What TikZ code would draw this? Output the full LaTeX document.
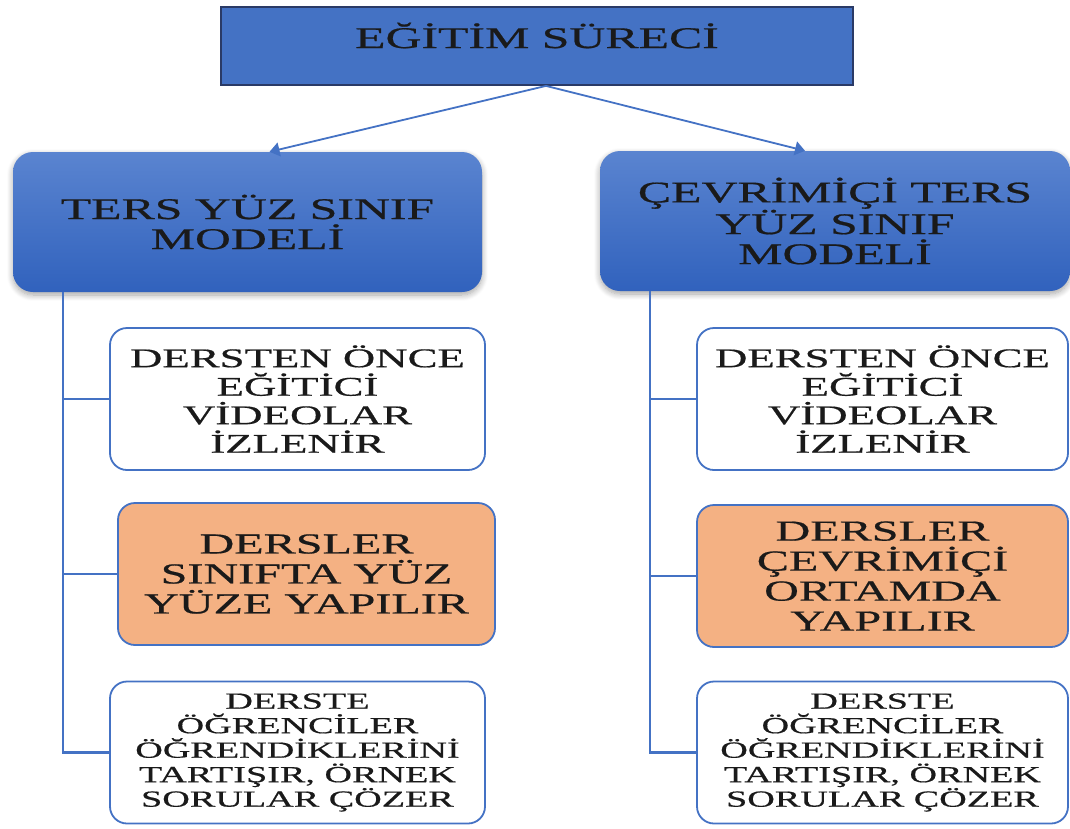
\documentclass[tikz,border=0pt]{standalone}
\usepackage{fontspec}
\setmainfont{Liberation Serif}[FakeStretch=1.66,FakeBold=0.6]
\usetikzlibrary{arrows.meta,shadows.blur}

\definecolor{accent}{HTML}{4472C4}
\definecolor{navy}{HTML}{2A3A66}
\definecolor{blueTop}{HTML}{5A84D0}
\definecolor{blueBot}{HTML}{3162BD}
\definecolor{peach}{HTML}{F4B183}
\definecolor{ink}{HTML}{1A1A1A}

\tikzset{
  headbox/.style={draw=navy, line width=1.8pt, fill=accent, text=ink,
    minimum width=632pt, minimum height=78pt, inner sep=0pt,
    text height=22pt, text depth=18pt,
    font=\fontsize{30}{30}\selectfont},
  modelbox/.style={rounded corners=20pt, top color=blueTop, bottom color=blueBot,
    draw=none, text=ink, align=center, inner sep=0pt,
    minimum height=140pt, font=\fontsize{30}{30}\selectfont,
    blur shadow={shadow blur steps=8, shadow xshift=0pt, shadow yshift=-3pt,
      shadow opacity=35, shadow blur radius=6pt}},
  stepcard/.style={rounded corners=17pt, draw=accent, line width=1.8pt,
    fill=white, text=ink, align=center, inner sep=0pt,
    minimum width=375pt, minimum height=142pt,
    font=\fontsize{27}{28.5}\selectfont},
  hlcard/.style={stepcard, fill=peach, font=\fontsize{29}{30}\selectfont},
  smallcard/.style={stepcard, font=\fontsize{23}{24.5}\selectfont},
  conn/.style={draw=accent, line width=2.2pt},
  branch/.style={draw=accent, line width=1.8pt, -{Triangle[width=14pt,length=10pt]}},
}

\begin{document}
\begin{tikzpicture}[x=1pt,y=-1pt]
\useasboundingbox (0,0) rectangle (1070,828);

% root
\node[headbox] (top) at (537,46) {EĞİTİM SÜRECİ};

% the two models
\node[modelbox, minimum width=469pt] (lb) at (247.5,222) {TERS YÜZ SINIF\\MODELİ};
\node[modelbox, minimum width=470pt] (rb) at (835,221) {ÇEVRİMİÇİ TERS\\YÜZ SINIF\\MODELİ};

% steps of the face-to-face model
\node[stepcard] (l1) at (297.5,399) {DERSTEN ÖNCE\\EĞİTİCİ\\VİDEOLAR\\İZLENİR};
\node[hlcard, minimum width=377pt] (l2) at (306.5,574) {DERSLER\\SINIFTA YÜZ\\YÜZE YAPILIR};
\node[smallcard] (l3) at (297.5,752.5) {DERSTE\\ÖĞRENCİLER\\ÖĞRENDİKLERİNİ\\TARTIŞIR, ÖRNEK\\SORULAR ÇÖZER};

% steps of the online model
\node[stepcard, minimum width=371pt] (r1) at (882.5,399) {DERSTEN ÖNCE\\EĞİTİCİ\\VİDEOLAR\\İZLENİR};
\node[hlcard, minimum width=371pt] (r2) at (882.5,576) {DERSLER\\ÇEVRİMİÇİ\\ORTAMDA\\YAPILIR};
\node[smallcard, minimum width=371pt] (r3) at (882.5,752.5) {DERSTE\\ÖĞRENCİLER\\ÖĞRENDİKLERİNİ\\TARTIŞIR, ÖRNEK\\SORULAR ÇÖZER};

% arrows from the root
\draw[branch] ([xshift=9pt]top.south) -- ([xshift=22pt]lb.north);
\draw[branch] ([xshift=9pt]top.south) -- ([xshift=-30pt]rb.north);

% trunks and branches
\coordinate (ltrunk) at (63,0);
\coordinate (rtrunk) at (650,0);
\draw[conn] (ltrunk |- lb.south) |- (l3.west);
\draw[conn] (ltrunk |- l1.west) -- (l1.west);
\draw[conn] (ltrunk |- l2.west) -- (l2.west);
\draw[conn] (rtrunk |- rb.south) |- (r3.west);
\draw[conn] (rtrunk |- r1.west) -- (r1.west);
\draw[conn] (rtrunk |- r2.west) -- (r2.west);
\end{tikzpicture}
\end{document}
